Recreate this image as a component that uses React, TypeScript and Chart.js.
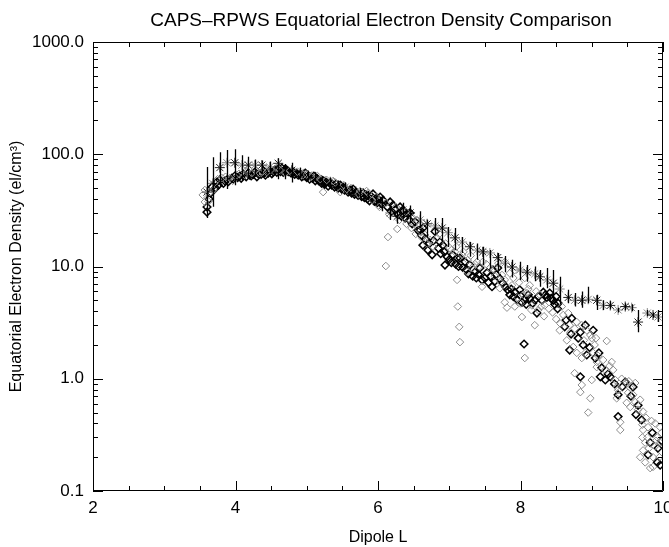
import React, { useEffect, useRef } from "react";
import { Chart, registerables } from "chart.js";

Chart.register(...registerables);

const TITLE = "CAPS–RPWS Equatorial Electron Density Comparison";
const X_LABEL = "Dipole L";
const Y_LABEL = "Equatorial Electron Density (el/cm³)";
const X_TICKS = [2, 4, 6, 8, 10];
const Y_TICKS = [0.1, 1, 10, 100, 1000];

// Star series (with error bars)
const starL = [3.60, 3.68, 3.78, 3.88, 3.99, 4.09, 4.18, 4.27, 4.37, 4.48, 4.60, 4.69, 4.79, 4.91, 5.02, 5.12, 5.21, 5.33, 5.44, 5.54, 5.64, 5.75, 5.86, 5.97, 6.06, 6.17, 6.27, 6.35, 6.45, 6.59, 6.69, 6.80, 6.90, 6.98, 7.08, 7.18, 7.29, 7.39, 7.47, 7.57, 7.68, 7.78, 7.88, 7.99, 8.09, 8.20, 8.27, 8.37, 8.46, 8.55, 8.67, 8.76, 8.86, 8.95, 9.07, 9.16, 9.26, 9.37, 9.47, 9.56, 9.65, 9.78, 9.86, 9.93];
const starN = [46, 55, 76, 84, 84, 80, 80, 80, 80, 77, 83, 72, 72, 69, 65, 63, 59, 57, 53, 51, 48, 45, 43, 39, 35, 30, 28, 32, 30, 26, 24, 23, 22, 20, 18, 16.5, 15, 14, 13.5, 13.2, 12, 10.7, 9.9, 9.3, 8.9, 8.6, 8.1, 7.6, 7.1, 6.3, 5.3, 5.0, 5.0, 5.1, 5.0, 4.5, 4.5, 4.1, 4.4, 4.3, 3.2, 3.85, 3.7, 3.55];
const starLo = [27, 34, 51, 49, 53, 59, 62, 65, 67, 68, 60, 60, 56, 62, 59, 57, 54, 52, 49, 47, 44, 41, 39, 35, 31, 26, 24, 27, 25, 22, 18.3, 19, 17, 14.9, 14, 13.2, 12.2, 11.5, 10.3, 9.6, 9.3, 8.9, 8, 7.6, 7.3, 7.4, 6.6, 6.4, 5.0, 4.6, 4.7, 4.4, 4.3, 4.7, 4.1, 4.1, 4.2, 3.9, 4.1, 4.0, 2.6, 3.6, 3.5, 3.2];
const starHi = [77, 94, 104, 109, 111, 98, 95, 90, 88, 86, 92, 82, 84, 76, 71, 69, 64, 62, 58, 56, 53, 50, 47, 43, 40, 35, 32, 37, 35, 31, 26, 27, 27, 22.5, 22, 18.3, 16.5, 16, 15, 14, 13.2, 12.4, 11.5, 11, 10.3, 10, 9.3, 9.7, 9.3, 8.1, 6.2, 5.8, 6.0, 6.6, 5.6, 5.0, 4.9, 4.3, 4.7, 4.6, 4.1, 4.1, 3.9, 4.1];

// Diamond series, grey
const greyL = [3.54, 3.57, 3.57, 3.64, 3.70, 3.81, 3.92, 4.02, 4.13, 4.23, 4.34, 4.44, 4.62, 4.76, 4.95, 5.06, 5.19, 5.23, 5.37, 5.47, 5.56, 5.75, 5.86, 5.97,
  6.14, 6.27, 6.11,
  6.11, 6.25, 6.39, 6.49, 6.55, 6.59, 6.66, 6.73, 6.83, 7.01, 7.08, 7.18, 7.26, 7.32, 7.39, 7.47, 7.46, 7.57, 7.64, 7.71, 7.74, 7.78, 7.78, 7.81, 7.88, 7.92, 7.96, 8.02, 8.04, 8.09, 8.16, 8.20, 8.25,
  7.11, 7.12, 7.14, 7.15, 8.06, 9.21,
  7.78, 7.92, 8.06, 8.13,
  8.34, 8.27, 8.58, 8.60, 8.67, 8.69, 8.76, 8.79, 8.86, 8.93, 8.98, 9.06, 9.00, 8.55, 8.65, 8.74, 8.79, 8.86, 9.02, 9.07, 8.76, 8.86, 8.84, 9.00, 8.98,
  8.91, 9.07, 9.16, 9.28, 9.19, 9.30, 9.33, 9.35, 9.37, 9.35, 9.49, 9.54, 9.61, 9.51, 9.49, 9.54, 9.61, 9.65, 9.72, 8.95, 9.40, 9.40, 9.71, 9.72, 9.79, 9.89, 9.96, 9.71, 9.78, 9.92, 9.96, 9.75, 9.72, 9.68, 9.75, 9.86, 9.86, 9.82, 9.99, 9.89];
const greyN = [43.4, 37.6, 48, 46, 55.5, 61.4, 61.4, 65.3, 65.3, 68.1, 68.1, 69.5, 72.4, 71, 65.3, 62.7, 60, 46, 57.8, 46, 49, 47, 45.2, 41.6,
  18.3, 21.6, 10.1,
  36.8, 33.9, 30.7, 27, 25.9, 23.4, 19.1, 17.2, 17.9, 14.6, 13.5, 12.7, 11.4, 9.7, 11, 11, 6.6, 9.7, 8.2, 6.4, 8.4, 7.6, 4.8, 4.3, 6.8, 4.4, 5.3, 3.55, 5.6, 5.8, 4.5, 3.0, 4.1,
  7.6, 4.4, 2.9, 2.12, 1.53, 2.17,
  11, 9.3, 7.9, 6.8,
  4.5, 5.6, 4.4, 3.7, 3.85, 3.0, 2.8, 3.2, 3.0, 2.7, 2.45, 2.3, 2.3, 2.7, 2.2, 1.92, 1.7, 1.53, 1.7, 1.41, 1.12, 0.88, 0.76, 0.975, 0.67,
  1.7, 1.27, 1.47, 1.41, 1.2, 1.2, 0.975, 0.845, 0.79, 0.67, 0.916, 0.83, 0.916, 0.75, 0.61, 0.56, 0.62, 0.53, 0.51, 0.50, 0.41, 0.35, 0.39, 0.35, 0.37, 0.40, 0.37, 0.30, 0.30, 0.30, 0.27, 0.27, 0.23, 0.20, 0.18, 0.20, 0.164, 0.16, 0.22, 0.25];
const greyBandL = [3.62, 3.69, 3.75, 3.86, 3.96, 4.05, 4.16, 4.28, 4.38, 4.50, 4.58, 4.70, 4.87, 5.00, 5.15, 5.28, 5.40, 5.52, 5.62, 5.73, 5.84, 5.92,
  6.02, 6.16, 6.30, 6.40, 6.47, 6.53, 6.62, 6.69, 6.77, 6.86, 6.95, 7.03, 7.10, 7.20, 7.25, 7.30, 7.36, 7.42, 7.52, 7.62, 7.69, 7.72, 7.85, 7.90, 7.98, 8.00, 8.11, 8.15, 8.22, 8.29, 8.33, 8.40, 8.45, 8.50, 8.56,
  8.70, 8.89, 9.04, 9.09, 9.25, 9.42, 9.52, 9.58, 9.68, 9.76, 9.84, 9.90, 9.95, 9.98, 9.80];
const greyBandN = [38, 48, 60, 63, 58, 67, 70, 72, 70, 73, 76, 68, 70, 66, 64, 59, 56, 53, 50, 44, 47, 39,
  34, 29, 26, 24, 22, 19.5, 18, 16, 15, 19.5, 16, 14, 15, 13.5, 9, 12.5, 10.5, 10, 10.5, 9.5, 10.7, 7.3, 8.7, 7.9, 7.2, 4.7, 6.3, 4.1, 6.0, 4.4, 3.6, 4.2, 3.9, 3.4, 3.1,
  2.6, 2.2, 2.0, 1.6, 1.3, 1.0, 0.95, 0.72, 0.65, 0.45, 0.42, 0.28, 0.20, 0.33, 0.24];

// Diamond series, black
const blackL = [3.60, 3.60, 3.67, 3.74, 3.78, 3.85, 3.88, 3.95, 3.99, 4.06, 4.11, 4.18, 4.20, 4.27, 4.32, 4.39, 4.41, 4.48, 4.53, 4.55, 4.60, 4.65, 4.69, 4.72, 4.81, 4.85, 4.91, 4.98, 5.02, 5.10, 5.14, 5.23, 5.27, 5.33, 5.41, 5.47, 5.51, 5.61, 5.65, 5.69, 5.79, 5.83, 5.90, 5.93, 6.00, 6.03,
  6.07, 6.17, 6.21, 6.31, 6.35, 6.42, 6.45, 6.52, 6.59, 6.63, 6.63, 6.70, 6.76, 6.80, 6.87, 6.91, 6.97, 6.94, 7.05, 7.11, 7.15, 7.22, 7.29, 7.36, 7.43, 7.46, 7.53, 7.60, 7.61, 7.68, 7.75, 7.82, 7.85, 7.92, 7.99, 8.06, 8.13, 8.20, 8.23, 8.05,
  8.32, 8.37, 8.41, 8.46, 8.50, 8.53, 8.64, 8.72, 8.84, 8.91, 9.02, 8.69, 8.93, 8.84,
  9.05, 9.12, 9.19, 9.26, 9.37, 9.47, 9.58, 9.65, 9.37, 9.82, 9.92, 9.96, 9.79];
const blackN = [33.9, 30.5, 51, 56.6, 59, 57.8, 59, 61.4, 64, 64, 66.7, 68.1, 65.3, 69.5, 66.7, 71, 68.1, 71, 69.5, 72.4, 73.8, 75.3, 72.4, 72.4, 69.5, 68, 66.7, 68, 64, 64, 61.4, 57.8, 56.6, 55.5, 54.3, 53.2, 51, 48, 49, 46, 45.2, 43.4, 42.5, 44.3, 40, 41.6,
  39, 37.6, 35.3, 33.9, 31.9, 29.4, 30, 25, 21.1, 22, 15.5, 14, 12.7, 20.5, 16.5, 15.5, 12.2, 10.3, 12.7, 11.9, 11.9, 11, 10.3, 8.9, 9.7, 7.6, 8.8, 6.6, 9.3, 9.7, 7.1, 6.2, 5.6, 5.9, 6.2, 5.0, 5.2, 5.0, 3.85, 2.04,
  5.9, 5.3, 5.8, 5.0, 5.4, 4.7, 3.33, 3.45, 2.6, 3.0, 2.7, 1.8, 1.63, 1.04,
  1.53, 1.04, 0.975, 1.04, 0.72, 0.935, 0.845, 0.58, 0.46, 0.27, 0.18, 0.17, 0.21];
const blackBandL = [3.63, 3.65, 3.72, 3.76, 3.83, 3.90, 3.97, 4.03, 4.08, 4.15, 4.22, 4.25, 4.30, 4.36, 4.42, 4.46, 4.51, 4.58, 4.63, 4.67, 4.70, 4.74, 4.78, 4.83, 4.88, 4.93, 4.96, 5.00, 5.04, 5.08, 5.12, 5.17, 5.21, 5.25, 5.30, 5.35, 5.39, 5.44, 5.49, 5.53, 5.58, 5.63, 5.67, 5.72, 5.77, 5.81, 5.85, 5.88, 5.95, 5.99,
  6.05, 6.13, 6.19, 6.24, 6.28, 6.33, 6.38, 6.44, 6.48, 6.56, 6.61, 6.67, 6.72, 6.78, 6.85, 6.88, 6.93, 7.00, 7.03, 7.09, 7.13, 7.19, 7.24, 7.27, 7.33, 7.38, 7.41, 7.50, 7.55, 7.58, 7.64, 7.66, 7.71, 7.79, 7.87, 7.90, 7.95, 8.00, 8.02, 8.08, 8.11, 8.17, 8.25, 8.30, 8.35, 8.43, 8.48, 8.52,
  8.62, 8.71, 8.81, 8.88, 8.97, 9.10, 9.14, 9.23, 9.32, 9.43, 9.55, 9.62, 9.70, 9.85, 9.93, 9.98];
const blackBandN = [40, 45, 50, 53, 55, 57, 60, 62, 61, 63, 64, 66, 63, 66, 65, 68, 67, 69, 70, 69, 74, 70, 68, 66, 65, 63, 64, 62, 60, 61, 58, 58, 55, 54, 52, 53, 51, 50, 49, 48, 46, 45, 44, 43, 42, 41, 40, 38.5, 38, 37,
  36, 34, 31, 32, 29, 28, 27, 26, 24, 21, 19, 17.5, 16, 17, 14.5, 13, 13.5, 11.5, 10.8, 10.5, 10, 9.8, 9.4, 8.6, 8.2, 7.9, 8.5, 7.9, 7.2, 8.2, 7.4, 8.5, 7.8, 6.6, 6.3, 5.4, 5.1, 5.5, 4.8, 4.6, 5.6, 4.7, 5.4, 5.0, 5.6, 5.2, 4.6, 4.2,
  2.9, 2.5, 2.3, 2.0, 1.9, 1.7, 1.25, 1.1, 0.9, 0.85, 0.7, 0.48, 0.43, 0.33, 0.24, 0.28];

const FONT = '"Liberation Sans", Arial, Helvetica, sans-serif';

const zip = (xs: number[], ys: number[]) => xs.map((x, i) => ({ x, y: ys[i] }));

const decorPlugin = {
  id: "decor",
  afterDatasetsDraw(chart: any) {
    const { ctx, scales } = chart;
    const xs = scales.x;
    const ys = scales.y;
    ctx.save();
    ctx.strokeStyle = "#000";
    ctx.lineWidth = 1.3;
    ctx.beginPath();
    starL.forEach((l, i) => {
      const px = Math.round(xs.getPixelForValue(l)) + 0.5;
      ctx.moveTo(px, ys.getPixelForValue(starLo[i]));
      ctx.lineTo(px, ys.getPixelForValue(starHi[i]));
    });
    ctx.stroke();
    ctx.restore();
  },
  afterDraw(chart: any) {
    const { ctx, chartArea, scales } = chart;
    const { left, right, top, bottom } = chartArea;
    const xs = scales.x;
    const ys = scales.y;
    ctx.save();
    ctx.strokeStyle = "#000";
    ctx.lineWidth = 1;
    ctx.beginPath();
    ctx.rect(left + 0.5, top + 0.5, right - left - 1, bottom - top - 1);
    for (let v = 2; v <= 10.001; v += 0.5) {
      const px = Math.round(xs.getPixelForValue(v)) + 0.5;
      const len = Math.abs(v % 2) < 1e-6 ? 10 : 5;
      ctx.moveTo(px, bottom);
      ctx.lineTo(px, bottom - len);
      ctx.moveTo(px, top);
      ctx.lineTo(px, top + len);
    }
    for (const d of [0.1, 1, 10, 100, 1000]) {
      for (let m = 1; m <= 9; m++) {
        const v = d * m;
        if (v > 1000.001) break;
        const py = Math.round(ys.getPixelForValue(v)) + 0.5;
        const len = m === 1 ? 10 : 5;
        ctx.moveTo(left, py);
        ctx.lineTo(left + len, py);
        ctx.moveTo(right, py);
        ctx.lineTo(right - len, py);
      }
    }
    ctx.stroke();
    ctx.fillStyle = "#000";
    ctx.font = `19px ${FONT}`;
    ctx.textAlign = "center";
    ctx.textBaseline = "middle";
    ctx.fillText(TITLE, (left + right) / 2 + 3, 21);
    ctx.restore();
  },
};

export default function App() {
  const ref = useRef<HTMLCanvasElement | null>(null);
  useEffect(() => {
    if (!ref.current) return;
    document.body.style.margin = "0";
    Chart.defaults.font.family = FONT;
    const chart = new Chart(ref.current, {
      type: "scatter",
      data: {
        datasets: [
          {
            label: "grey",
            data: zip(greyL.concat(greyBandL), greyN.concat(greyBandN)),
            pointStyle: "rectRot",
            pointRadius: 3.8,
            borderColor: "#8c8c8c",
            backgroundColor: "rgba(0,0,0,0)",
            borderWidth: 1,
          },
          {
            label: "black",
            data: zip(blackL.concat(blackBandL), blackN.concat(blackBandN)),
            pointStyle: "rectRot",
            pointRadius: 3.8,
            borderColor: "#000",
            backgroundColor: "rgba(0,0,0,0)",
            borderWidth: 1.5,
          },
          {
            label: "stars",
            data: zip(starL, starN),
            pointStyle: "star",
            pointRadius: 5,
            borderColor: starL.map((_, i) => (i % 2 === 0 ? "#222" : "#888")),
            backgroundColor: "rgba(0,0,0,0)",
            borderWidth: 1,
          },
        ],
      },
      options: {
        animation: false,
        responsive: false,
        devicePixelRatio: 1,
        events: [],
        layout: { padding: { top: 42, right: 6, left: 0, bottom: 0 } },
        plugins: { legend: { display: false }, tooltip: { enabled: false }, title: { display: false } },
        scales: {
          x: {
            type: "linear",
            min: 2,
            max: 10,
            grid: { display: false, drawTicks: false },
            border: { display: false },
            afterBuildTicks: (s: any) => {
              s.ticks = X_TICKS.map((v) => ({ value: v }));
            },
            afterFit: (s: any) => {
              s.height = 56;
              s.paddingLeft = 0;
              s.paddingRight = 0;
            },
            ticks: { color: "#000", font: { size: 17 }, padding: 7, maxRotation: 0, callback: (v: any) => String(v) },
            title: { display: true, text: X_LABEL, color: "#000", font: { size: 16 }, padding: { top: 0, bottom: 0 } },
          },
          y: {
            type: "logarithmic",
            min: 0.1,
            max: 1000,
            grid: { display: false, drawTicks: false },
            border: { display: false },
            afterBuildTicks: (s: any) => {
              s.ticks = Y_TICKS.map((v) => ({ value: v }));
            },
            afterFit: (s: any) => {
              s.width = 93;
              s.paddingTop = 0;
              s.paddingBottom = 0;
            },
            ticks: { color: "#000", font: { size: 17 }, padding: 9, callback: (v: any) => Number(v).toFixed(1) },
            title: { display: true, text: Y_LABEL, color: "#000", font: { size: 16 }, padding: { top: 7, bottom: 0 } },
          },
        },
      },
      plugins: [decorPlugin],
    });
    return () => chart.destroy();
  }, []);
  return (
    <div style={{ position: "fixed", left: 0, top: 0, width: 669, height: 547, background: "#fff" }}>
      <canvas ref={ref} width={669} height={547} style={{ width: 669, height: 547 }} />
    </div>
  );
}
